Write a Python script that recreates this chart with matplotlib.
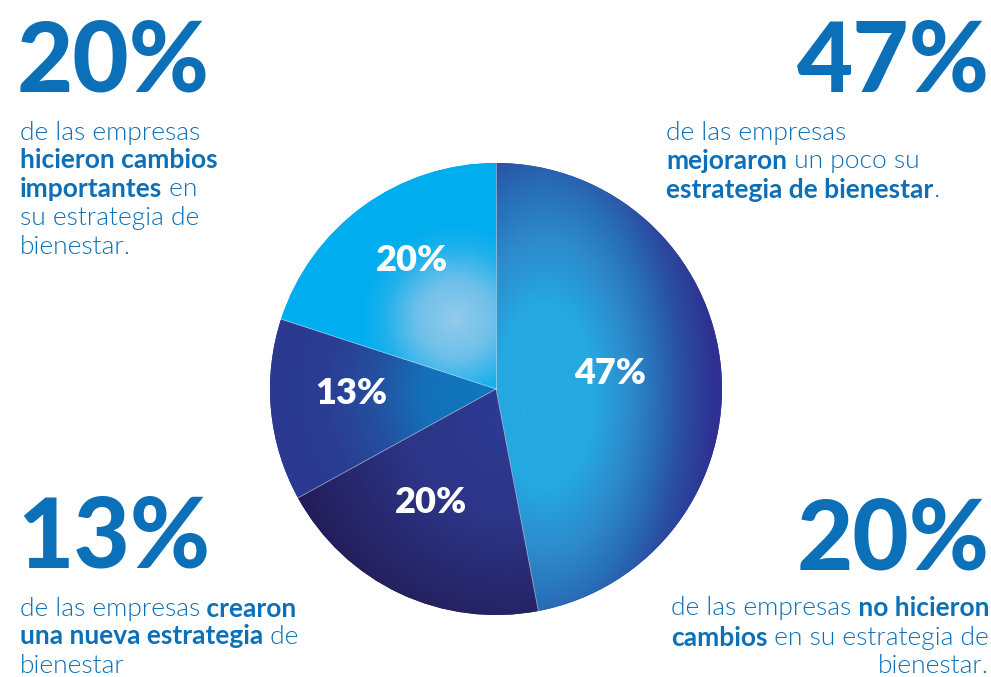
import numpy as np
import matplotlib
matplotlib.use('Agg')
import matplotlib.pyplot as plt
from matplotlib.colors import LinearSegmentedColormap

##data
shares = [47, 20, 13, 20]
big_numbers = ['20%', '47%', '13%', '20%']

# each line is a list of (text, bold) runs
text_tl = [[('de las empresas', False)],
           [('hicieron cambios', True)],
           [('importantes', True), (' en', False)],
           [('su estrategia de', False)],
           [('bienestar.', False)]]
text_tr = [[('de las empresas', False)],
           [('mejoraron', True), (' un poco su', False)],
           [('estrategia de bienestar', True), ('.', False)]]
text_bl = [[('de las empresas', False), (' crearon', True)],
           [('una nueva estrategia', True), (' de', False)],
           [('bienestar', False)]]
text_br = [[('de las empresas', False), (' no hicieron', True)],
           [('cambios', True), (' en su estrategia de', False)],
           [('bienestar.', False)]]

##style
blue = '#0c70b8'
font = 'Lato'
body_size = 19
big_size = 70

# gradients per slice: centre x, centre y, radius x, radius y, stops, colours
grads = [
    (0.22, -0.03, 0.75, 1.4, [0, .3, .5, .65, .8, 1],
     ['#27aae2', '#25a7e0', '#2d8acb', '#2870b9', '#2a50a2', '#2e3192']),
    (0.06, -0.14, 1.0, 1.0, [0, .45, 1],
     ['#2e3b94', '#2c3587', '#231d58']),
    (-0.07, -0.01, 0.85, 0.85, [0, .3, .55, .8, 1],
     ['#0f78be', '#1470b9', '#24509f', '#2a3e93', '#2b3990']),
    (-0.18, 0.31, 0.42, 0.42, [0, .4, .75, 1],
     ['#92cbec', '#6fc0ea', '#1fb1ec', '#00aeef']),
]
label_r = [0.51, 0.58, 0.64, 0.68]
label_shift = [2.5, -4.5, -3.5, -3]

W, H = 991, 677
fig = plt.figure(figsize=(W / 100, H / 100), dpi=100)
fig.patch.set_facecolor('white')

##overlay axes in pixel coords for text
ax_t = fig.add_axes([0, 0, 1, 1])
ax_t.set_xlim(0, W)
ax_t.set_ylim(H, 0)
ax_t.axis('off')

##pie
cx_px, cy_px, r_px = 496, 389, 226
ax = fig.add_axes([(cx_px - r_px) / W, (H - cy_px - r_px) / H, 2 * r_px / W, 2 * r_px / H])
wedges, _ = ax.pie(shares, startangle=90, counterclock=False, radius=1,
                   colors=[g[5][-1] for g in grads], wedgeprops=dict(linewidth=0))

xs = np.linspace(-1, 1, 700)
X, Y = np.meshgrid(xs, xs)
for w, (gx, gy, rx, ry, stops, cols) in zip(wedges, grads):
    d = np.sqrt(((X - gx) / rx) ** 2 + ((Y - gy) / ry) ** 2).clip(0, 1)
    cmap = LinearSegmentedColormap.from_list('g', list(zip(stops, cols)))
    im = ax.imshow(d, cmap=cmap, vmin=0, vmax=1, extent=(-1, 1, -1, 1),
                   origin='lower', interpolation='bilinear', zorder=2)
    im.set_clip_path(w)

# thin light separators
for w in wedges:
    a = np.deg2rad(w.theta1)
    ax.plot([0, np.cos(a)], [0, np.sin(a)], color='white', lw=0.6, alpha=0.5, zorder=3)

for w, s, r, sh in zip(wedges, shares, label_r, label_shift):
    a = np.deg2rad((w.theta1 + w.theta2) / 2 + sh)
    ax.text(r * np.cos(a), r * np.sin(a), f'{s}%', ha='center', va='center',
            color='white', fontsize=26, fontweight='heavy', family=font, zorder=4)

ax.set_xlim(-1, 1)
ax.set_ylim(-1, 1)
ax.set_aspect('equal')
ax.axis('off')


def rich_line(x, y, runs, ha='left'):
    kw = dict(color=blue, fontsize=body_size, family=font)
    wt = lambda b: 'bold' if b else 300
    if ha == 'left':
        t = ax_t.text(x, y, runs[0][0], ha='left', va='baseline', fontweight=wt(runs[0][1]), **kw)
        for s, b in runs[1:]:
            t = ax_t.annotate(s, xy=(1, 0), xycoords=t, ha='left', va='bottom', fontweight=wt(b), **kw)
    else:
        t = ax_t.text(x, y, runs[-1][0], ha='right', va='baseline', fontweight=wt(runs[-1][1]), **kw)
        for s, b in runs[-2::-1]:
            t = ax_t.annotate(s, xy=(0, 0), xycoords=t, ha='right', va='bottom', fontweight=wt(b), **kw)


def block(x, y0, lines, ha='left', step=29):
    for i, runs in enumerate(lines):
        rich_line(x, y0 + i * step, runs, ha)


##big numbers
bkw = dict(color=blue, fontsize=big_size, fontweight='black', family=font, va='baseline')
ax_t.text(17, 92, big_numbers[0], ha='left', **bkw)
ax_t.text(990, 92, big_numbers[1], ha='right', **bkw)
ax_t.text(17, 567, big_numbers[2], ha='left', **bkw)
ax_t.text(990, 569, big_numbers[3], ha='right', **bkw)

##body text
block(20, 140, text_tl, step=28.5)
block(666, 140, text_tr)
block(20, 616, text_bl, step=28.5)
block(989, 616, text_br, ha='right', step=28.5)

fig.savefig('out.png', dpi=100)
